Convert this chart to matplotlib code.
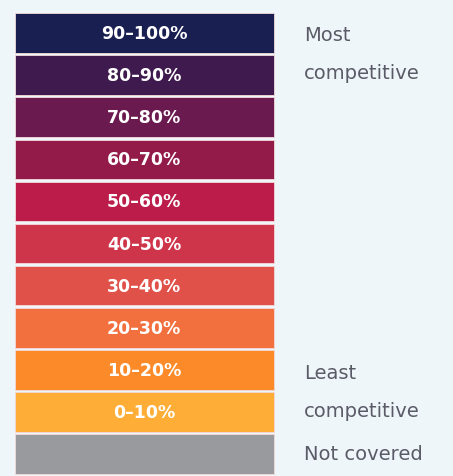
import matplotlib.pyplot as plt

# legend bins, top to bottom
labels = ["90–100%", "80–90%", "70–80%", "60–70%", "50–60%",
          "40–50%", "30–40%", "20–30%", "10–20%", "0–10%", ""]
colors = ["#1a1f52", "#3f1a4e", "#6a1a4f", "#921b4a", "#bb1c4a",
          "#cf354a", "#e0514a", "#f2703e", "#fd8a28", "#feae37", "#999a9e"]
# side notes: (row, text, vertical nudge in px)
side_notes = [(0, "Most", 1), (1, "competitive", -3),
              (8, "Least", 3), (9, "competitive", -1), (10, "Not covered", -1)]

W, H = 453, 477
fig = plt.figure(figsize=(W / 100, H / 100), dpi=100)
fig.patch.set_facecolor("#eef6fa")
ax = fig.add_axes([0, 0, 1, 1])
ax.set_facecolor("#eef6fa")
ax.set_xlim(0, W)
ax.set_ylim(H, 0)
ax.axis("off")

top, step, gap = 13, 42.1, 2.5
ys = [top + i * step + step / 2 for i in range(len(labels))]
ax.barh(ys, 259, height=step - gap, left=15, color=colors,
        edgecolor="#f3d9d9", linewidth=0.6)

for y, lab in zip(ys, labels):
    ax.text(144, y, lab, color="white", fontsize=12.5, fontweight="bold",
            ha="center", va="center")

for row, txt, dy in side_notes:
    ax.text(304, ys[row] + dy, txt, color="#5b5b68", fontsize=14, va="center")

fig.savefig("out.png", dpi=100, facecolor=fig.get_facecolor())
